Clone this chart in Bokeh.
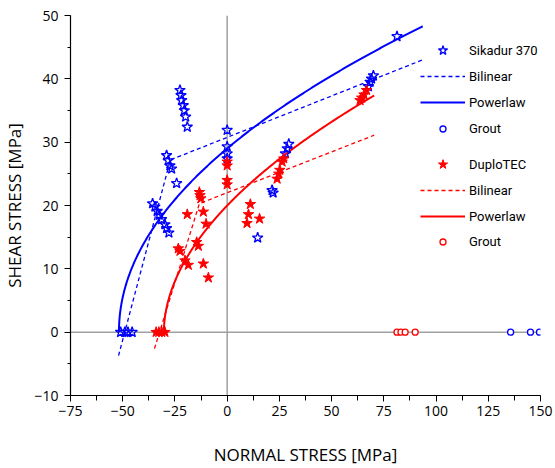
import numpy as np
from bokeh.plotting import figure
from bokeh.models import Range1d, Span, Legend, LegendItem, SingleIntervalTicker
from bokeh.embed import file_html
from bokeh.resources import INLINE

# ---------------- data ----------------
sika_x = [-51.0, -49.0, -47.5, -45.5,
          -22.6, -22.1, -21.8, -21.0, -20.5, -19.9, -19.1,
          0.0, 0.0, 0.0, 0.0,
          -29.0, -28.2, -27.4, -26.6, -24.2,
          -35.7, -34.6, -33.5, -32.5, -31.4, -29.8, -29.0, -27.9,
          14.6, 21.5, 22.0, 27.9, 28.7, 29.5,
          81.3, 70.0, 69.1, 68.4, 67.6]
sika_y = [0.0, 0.0, 0.0, 0.0,
          38.2, 37.4, 36.6, 35.8, 35.0, 34.0, 32.4,
          31.9, 29.3, 28.2, 27.4,
          27.9, 27.1, 26.3, 25.8, 23.5,
          20.3, 19.8, 19.1, 18.5, 17.8, 17.0, 16.4, 15.7,
          14.9, 22.4, 22.0, 28.2, 29.0, 29.7,
          46.7, 40.5, 40.0, 39.5, 38.8]

duplo_x = [-34.0, -32.7, -31.3, -29.8,
           -13.3, -13.0, -12.6, -19.1, -11.4, -10.1, -14.6, -13.8,
           -23.4, -22.6, -20.2, -18.6, -11.4, -9.0,
           0.0, 0.0, 0.0, 0.0,
           11.1, 10.2, 9.5, 15.5,
           23.9, 24.7, 25.2, 26.3, 27.1,
           66.7, 65.5, 64.4, 63.6]
duplo_y = [0.0, 0.0, 0.0, 0.0,
           22.1, 21.6, 21.1, 18.6, 19.0, 17.1, 14.2, 13.6,
           13.2, 12.8, 11.3, 10.6, 10.8, 8.6,
           26.9, 26.3, 24.0, 23.3,
           20.2, 18.6, 17.2, 17.9,
           24.2, 25.0, 25.6, 26.9, 27.4,
           38.2, 37.5, 37.0, 36.6]

sika_grout_x = [135.7, 145.2, 149.5]
sika_grout_y = [0.0, 0.0, 0.0]
duplo_grout_x = [81.3, 83.2, 85.2, 90.0]
duplo_grout_y = [0.0, 0.0, 0.0, 0.0]

# bilinear envelopes (end points and knee)
sika_bilin_x = [-52.0, -27.2, 93.6]
sika_bilin_y = [-3.7, 27.2, 43.0]
duplo_bilin_x = [-34.8, -13.3, 70.4]
duplo_bilin_y = [-2.6, 20.3, 31.1]

# power-law fits: tau = a * (sigma + s0) ** b, drawn from -s0 to sigma_max
sika_power = dict(s0=51.8, a=4.123, b=0.4942, xmax=93.6)
duplo_power = dict(s0=30.3, a=3.38, b=0.521, xmax=70.4)

x_ticks_interval = 25
y_ticks_interval = 10

BLUE = "#0000ff"
RED = "#ff0000"
GREY = "#a0a0a0"


def powerlaw_curve(prm):
    xs = -prm["s0"] + (prm["xmax"] + prm["s0"]) * np.linspace(0, 1, 400) ** 2
    ys = prm["a"] * np.clip(xs + prm["s0"], 0, None) ** prm["b"]
    return xs, ys


p = figure(width=555, height=468, output_backend="svg", toolbar_location=None,
           x_range=Range1d(-75, 150), y_range=Range1d(-10, 50),
           min_border_left=70, min_border_right=15, min_border_top=15,
           min_border_bottom=73)
p.outline_line_color = None
p.xgrid.visible = False
p.ygrid.visible = False
p.background_fill_color = "white"
p.border_fill_color = "white"

p.add_layout(Span(location=0, dimension="height", line_color=GREY, line_width=1.5, level="underlay"))
p.add_layout(Span(location=0, dimension="width", line_color=GREY, line_width=1.5, level="underlay"))

# lines
sb = p.line(sika_bilin_x, sika_bilin_y, line_color=BLUE, line_width=1.3, line_dash="4 3")
sx, sy = powerlaw_curve(sika_power)
sp = p.line(sx, sy, line_color=BLUE, line_width=2)
db = p.line(duplo_bilin_x, duplo_bilin_y, line_color=RED, line_width=1.3, line_dash="4 3")
dx, dy = powerlaw_curve(duplo_power)
dp = p.line(dx, dy, line_color=RED, line_width=2)

# markers
ss = p.scatter(sika_x, sika_y, marker="star", size=11, line_color=BLUE,
               fill_color="white", fill_alpha=0, line_width=1.3)
ds = p.scatter(duplo_x, duplo_y, marker="star", size=11, line_color=RED,
               fill_color=RED, line_width=1)
sg = p.scatter(sika_grout_x, sika_grout_y, marker="circle", size=6, line_color=BLUE,
               fill_color="white", line_width=1.3)
dg = p.scatter(duplo_grout_x, duplo_grout_y, marker="circle", size=6, line_color=RED,
               fill_color="white", line_width=1.3)

# axes
for ax in (p.xaxis[0], p.yaxis[0]):
    ax.axis_line_color = "black"
    ax.axis_line_width = 1.2
    ax.major_tick_line_color = "black"
    ax.minor_tick_line_color = "black"
    ax.major_tick_in = 0
    ax.major_tick_out = 6
    ax.minor_tick_in = 0
    ax.major_label_text_font = "Open Sans"
    ax.major_label_text_font_size = "14px"
    ax.major_label_text_color = "black"
    ax.axis_label_text_font = "Open Sans"
    ax.axis_label_text_font_size = "17px"
    ax.axis_label_text_font_style = "normal"
    ax.axis_label_text_color = "black"

p.xaxis[0].ticker = SingleIntervalTicker(interval=x_ticks_interval, num_minor_ticks=2)
p.yaxis[0].ticker = SingleIntervalTicker(interval=y_ticks_interval, num_minor_ticks=2)
p.xaxis[0].minor_tick_out = 5
p.yaxis[0].minor_tick_out = 3
p.xaxis[0].axis_label = "NORMAL STRESS [MPa]"
p.yaxis[0].axis_label = "SHEAR STRESS [MPa]"
p.xaxis[0].major_label_standoff = 4
p.xaxis[0].axis_label_standoff = 24
p.yaxis[0].major_label_standoff = 6
p.yaxis[0].axis_label_standoff = 5


def make_legend(items, loc, glyph_h, spacing):
    lg = Legend(items=items, location=loc, orientation="vertical")
    lg.background_fill_alpha = 0
    lg.border_line_color = None
    lg.padding = 0
    lg.margin = 0
    lg.glyph_width = 45
    lg.glyph_height = glyph_h
    lg.label_height = 20
    lg.label_standoff = 4
    lg.spacing = spacing
    lg.label_text_font = "Roboto"
    lg.label_text_font_size = "13px"
    lg.label_text_color = "black"
    return lg


legends = [
    make_legend([
        LegendItem(label="Sikadur 370", renderers=[ss]),
        LegendItem(label="Bilinear", renderers=[sb]),
        LegendItem(label="Powerlaw", renderers=[sp]),
    ], (350, 281), 24, 2),
    make_legend([LegendItem(label="Grout", renderers=[sg])], (350, 257), 15, 0),
    make_legend([
        LegendItem(label="DuploTEC", renderers=[ds]),
        LegendItem(label="Bilinear", renderers=[db]),
        LegendItem(label="Powerlaw", renderers=[dp]),
    ], (350, 167), 24, 2),
    make_legend([LegendItem(label="Grout", renderers=[dg])], (350, 144), 15, 0),
]
for lg in legends:
    p.add_layout(lg, "center")

open("out.html", "w").write(file_html(p, INLINE))
